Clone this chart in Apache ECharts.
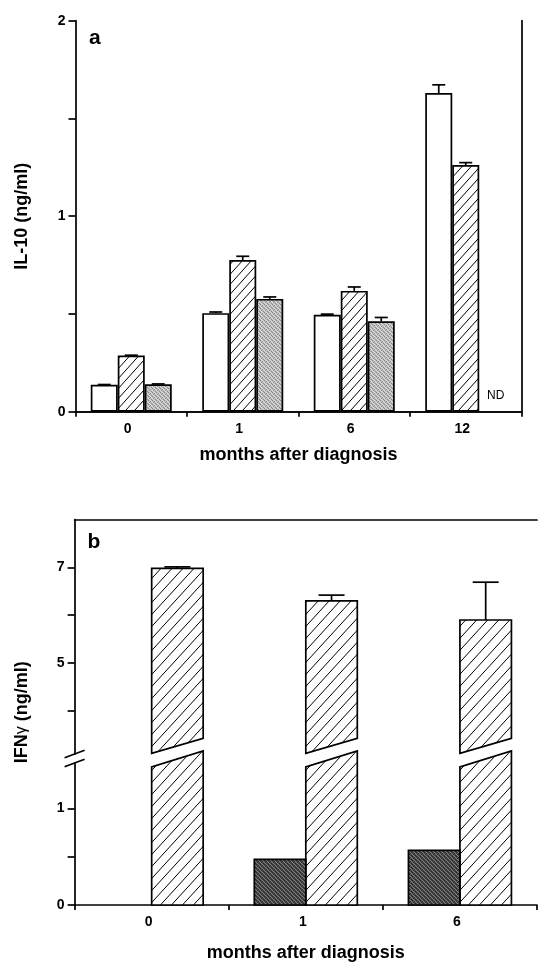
<!DOCTYPE html>
<html><head><meta charset="utf-8">
<script src="https://cdn.jsdelivr.net/npm/echarts@6/dist/echarts.min.js"></script>
<style>html,body{margin:0;padding:0;background:#fff}#c{width:539px;height:965px}</style>
</head><body><div id="c"></div>
<script>
// ---------- Panel a data (IL-10, ng/ml) ----------
const monthsA = ['0', '1', '6', '12'];
const il10Open = [0.138, 0.504, 0.496, 1.630];
const il10OpenErr = [0.139, 0.510, 0.499, 1.672];
const il10Hatched = [0.287, 0.776, 0.618, 1.262];
const il10HatchedErr = [0.289, 0.795, 0.638, 1.274];
const il10Gray = [0.140, 0.577, 0.463, null];      // null = ND
const il10GrayErr = [0.142, 0.587, 0.482, null];
const ndText = 'ND';
const ticksA = [0, 0.5, 1, 1.5, 2];
const labelsA = [0, 1, 2];

// ---------- Panel b data (IFNγ, ng/ml) ----------
const monthsB = ['0', '1', '6'];
const ifnDark = [null, 0.472, 0.565];
const ifnHatched = [6.98, 6.30, 5.90];
const ifnHatchedErr = [7.01, 6.42, 6.69];
const ticksBUpper = [4, 5, 6, 7];
const labelsBUpper = [5, 7];
const ticksBLower = [0, 0.5, 1];
const labelsBLower = [0, 1];

// ---------- layout / style constants ----------
const W = 539, H = 965;
const A = {left: 75.5, right: 17.5, top: 20.7, bottom: 553.3};
const BU = {left: 74.6, right: 2, top: 519.5, bottom: 211};
const BL = {left: 74.6, right: 2, top: 763, bottom: 60};
const BU_MIN = 3.1, BU_MAX = 8, BL_MIN = 0, BL_MAX = 1.47;
const CUT_UP = [3.113, 3.426];   // lower edge of upper piece (left, right)
const CUT_LO = [1.430, 1.596];   // upper edge of lower piece (left, right)
const BW_A = 27, BW_B = 51.5, CAP_A = 13, CAP_B = 26;
const FONT = 'Liberation Sans';
const LW = 1.7;

function hatch(w, h) {
  const c = document.createElement('canvas'); c.width = w; c.height = h;
  const g = c.getContext('2d');
  g.fillStyle = '#fff'; g.fillRect(0, 0, w, h);
  g.strokeStyle = '#000'; g.lineWidth = 1;
  g.beginPath();
  g.moveTo(0, h); g.lineTo(w, 0);
  g.moveTo(-w, h); g.lineTo(0, 0);
  g.moveTo(0, 2 * h); g.lineTo(2 * w, 0);
  g.stroke();
  return {image: c, repeat: 'repeat'};
}
function stipple(base, dark, light) {
  const c = document.createElement('canvas'); c.width = 4; c.height = 4;
  const g = c.getContext('2d');
  g.fillStyle = base; g.fillRect(0, 0, 4, 4);
  const d = [[0,0],[2,1],[1,2],[3,3]], l = [[2,0],[0,2],[3,1],[1,3]];
  g.fillStyle = dark; d.forEach(p => g.fillRect(p[0], p[1], 1, 1));
  g.fillStyle = light; l.forEach(p => g.fillRect(p[0], p[1], 1, 1));
  return {image: c, repeat: 'repeat'};
}
const hatchA = hatch(9, 10), hatchB = hatch(11, 12);
const grayA = stipple('#bdbdbd', '#8c8c8c', '#dedede');
const darkB = stipple('#4c4c4c', '#222', '#808080');

const chart = echarts.init(document.getElementById('c'), null, {renderer: 'canvas'});

const axisLine = {show: true, lineStyle: {color: '#000', width: LW}};
const tickLabel = {color: '#000', fontFamily: FONT, fontWeight: 'bold', fontSize: 14};
const nameStyle = {color: '#000', fontFamily: FONT, fontWeight: 'bold', fontSize: 18};

function errRender(offsetFn, cap) {
  return function (params, api) {
    const i = api.value(0), v = api.value(1), e = api.value(2), s = api.value(3);
    if (isNaN(v) || isNaN(e)) return null;
    const p0 = api.coord([i, v]), p1 = api.coord([i, e]);
    const cx = p0[0] + offsetFn(s);
    const st = {stroke: '#000', lineWidth: LW};
    return {type: 'group', children: [
      {type: 'line', shape: {x1: cx, y1: p0[1], x2: cx, y2: p1[1]}, style: st},
      {type: 'line', shape: {x1: cx - cap / 2, y1: p1[1], x2: cx + cap / 2, y2: p1[1]}, style: st}
    ]};
  };
}

const errA = [];
[[il10Open, il10OpenErr], [il10Hatched, il10HatchedErr], [il10Gray, il10GrayErr]].forEach((pair, s) => {
  pair[0].forEach((v, i) => {
    if (v != null) errA.push([i, v, pair[1][i], s]);
  });
});
const ndData = il10Gray.map((v, i) => v == null ? [i, 0] : null).filter(Boolean);

const errB = ifnHatched.map((v, i) => [i, v, ifnHatchedErr[i], 1]);

function hatchedUpper(params, api) {
  const i = api.value(0), v = api.value(1);
  const c = api.coord([i, v]);
  const x0 = c[0], x1 = c[0] + BW_B;
  const yl = api.coord([i, CUT_UP[0]])[1], yr = api.coord([i, CUT_UP[1]])[1];
  return {type: 'polygon', shape: {points: [[x0, c[1]], [x1, c[1]], [x1, yr], [x0, yl]]},
    style: {fill: hatchB, stroke: '#000', lineWidth: LW}};
}
function hatchedLower(params, api) {
  const i = api.value(0);
  const b = api.coord([i, 0]);
  const x0 = b[0], x1 = b[0] + BW_B;
  const yl = api.coord([i, CUT_LO[0]])[1], yr = api.coord([i, CUT_LO[1]])[1];
  return {type: 'polygon', shape: {points: [[x0, b[1]], [x1, b[1]], [x1, yr], [x0, yl]]},
    style: {fill: hatchB, stroke: '#000', lineWidth: LW}};
}
function darkRender(params, api) {
  const i = api.value(0), v = api.value(1);
  if (isNaN(v)) return null;
  const b = api.coord([i, 0]), t = api.coord([i, v]);
  return {type: 'rect', shape: {x: b[0] - BW_B, y: t[1], width: BW_B, height: b[1] - t[1]},
    style: {fill: darkB, stroke: '#000', lineWidth: LW}};
}

const option = {
  backgroundColor: '#fff',
  animation: false,
  grid: [
    {left: A.left, right: A.right, top: A.top, bottom: A.bottom},
    {left: BU.left, right: BU.right, top: BU.top, bottom: BU.bottom},
    {left: BL.left, right: BL.right, top: BL.top, bottom: BL.bottom}
  ],
  xAxis: [
    {gridIndex: 0, type: 'category', data: monthsA, position: 'bottom',
     axisLine: axisLine, axisTick: {show: true, length: 5, lineStyle: {color: '#000', width: LW}},
     axisLabel: Object.assign({margin: 10, padding: [0, 7, 0, 0]}, tickLabel),
     name: 'months after diagnosis', nameLocation: 'middle', nameGap: 34, nameTextStyle: nameStyle},
    {gridIndex: 0, type: 'category', data: monthsA, position: 'top',
     axisLine: axisLine, axisTick: {show: false}, axisLabel: {show: false}},
    {gridIndex: 1, type: 'category', data: monthsB, position: 'top',
     axisLine: axisLine, axisTick: {show: false}, axisLabel: {show: false}},
    {gridIndex: 2, type: 'category', data: monthsB, position: 'bottom',
     axisLine: axisLine, axisTick: {show: true, length: 5, lineStyle: {color: '#000', width: LW}},
     axisLabel: Object.assign({margin: 10, padding: [0, 6, 0, 0]}, tickLabel),
     name: 'months after diagnosis', nameLocation: 'middle', nameGap: 39, nameTextStyle: nameStyle}
  ],
  yAxis: [
    {gridIndex: 0, type: 'value', min: 0, max: 2, position: 'left',
     axisLine: axisLine, splitLine: {show: false},
     axisTick: {show: true, length: 7, customValues: ticksA, lineStyle: {color: '#000', width: LW}},
     axisLabel: Object.assign({margin: 10, customValues: labelsA}, tickLabel),
     name: 'IL-10 (ng/ml)', nameLocation: 'middle', nameGap: 44, nameTextStyle: nameStyle},
    {gridIndex: 0, type: 'value', min: 0, max: 2, position: 'right',
     axisLine: axisLine, splitLine: {show: false}, axisTick: {show: false}, axisLabel: {show: false}},
    {gridIndex: 1, type: 'value', min: BU_MIN, max: BU_MAX, position: 'left',
     axisLine: axisLine, splitLine: {show: false},
     axisTick: {show: true, length: 7, customValues: ticksBUpper, lineStyle: {color: '#000', width: LW}},
     axisLabel: Object.assign({margin: 10, customValues: labelsBUpper}, tickLabel)},
    {gridIndex: 2, type: 'value', min: BL_MIN, max: BL_MAX, position: 'left',
     axisLine: axisLine, splitLine: {show: false},
     axisTick: {show: true, length: 7, customValues: ticksBLower, lineStyle: {color: '#000', width: LW}},
     axisLabel: Object.assign({margin: 10, customValues: labelsBLower}, tickLabel)}
  ],
  series: [
    {type: 'bar', xAxisIndex: 0, yAxisIndex: 0, data: il10Open, barWidth: BW_A, barGap: '0%',
     itemStyle: {color: '#fff', borderColor: '#000', borderWidth: LW}},
    {type: 'bar', xAxisIndex: 0, yAxisIndex: 0, data: il10Hatched, barWidth: BW_A, barGap: '0%',
     itemStyle: {color: hatchA, borderColor: '#000', borderWidth: LW}},
    {type: 'bar', xAxisIndex: 0, yAxisIndex: 0, data: il10Gray.map(v => v == null ? '-' : v), barWidth: BW_A, barGap: '0%',
     itemStyle: {color: grayA, borderColor: '#000', borderWidth: LW}},
    {type: 'custom', xAxisIndex: 0, yAxisIndex: 0, z: 5, data: errA,
     renderItem: errRender(s => (s - 1) * BW_A, CAP_A)},
    {type: 'custom', xAxisIndex: 0, yAxisIndex: 0, z: 5, data: ndData,
     renderItem: function (params, api) {
       const c = api.coord([api.value(0), 0]);
       return {type: 'text', style: {text: ndText, x: c[0] + BW_A + 3, y: c[1] - 10,
         align: 'center', verticalAlign: 'bottom', font: '12px "' + FONT + '"', fill: '#000'}};
     }},
    {type: 'custom', xAxisIndex: 2, yAxisIndex: 2, z: 3, clip: false,
     data: ifnHatched.map((v, i) => [i, v]), renderItem: hatchedUpper},
    {type: 'custom', xAxisIndex: 2, yAxisIndex: 2, z: 5, data: errB,
     renderItem: errRender(s => BW_B / 2, CAP_B)},
    {type: 'custom', xAxisIndex: 3, yAxisIndex: 3, z: 3, clip: false,
     data: ifnHatched.map((v, i) => [i, v]), renderItem: hatchedLower},
    {type: 'custom', xAxisIndex: 3, yAxisIndex: 3, z: 3,
     data: ifnDark.map((v, i) => [i, v == null ? '-' : v]), renderItem: darkRender}
  ],
  graphic: [
    {type: 'text', x: A.left + 13.5, y: A.top + 28, style: {text: 'a', font: 'bold 21px "' + FONT + '"', fill: '#000', verticalAlign: 'bottom'}},
    {type: 'text', x: BU.left + 13, y: BU.top + 33, style: {text: 'b', font: 'bold 21px "' + FONT + '"', fill: '#000', verticalAlign: 'bottom'}},
    {type: 'text', x: 22, y: (BU.top + (H - BL.bottom)) / 2, rotation: Math.PI / 2,
     style: {text: '{b|IFN}{g|γ}{b| (ng/ml)}', align: 'center', verticalAlign: 'middle',
       rich: {b: {font: 'bold 18px "' + FONT + '"', fill: '#000'}, g: {font: '16px "' + FONT + '"', fill: '#000'}}}},
    {type: 'line', shape: {x1: BU.left - 10, y1: H - BU.bottom + 3.8, x2: BU.left + 10, y2: H - BU.bottom - 3.8},
     style: {stroke: '#000', lineWidth: LW}},
    {type: 'line', shape: {x1: BL.left - 10, y1: BL.top + 3.8, x2: BL.left + 10, y2: BL.top - 3.8},
     style: {stroke: '#000', lineWidth: LW}}
  ]
};
chart.setOption(option);
</script>
</body></html>
